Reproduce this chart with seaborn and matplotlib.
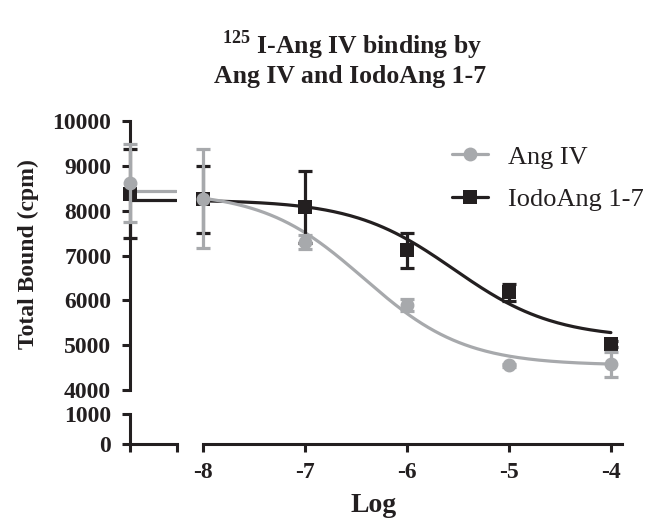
import numpy as np
import pandas as pd
import matplotlib
matplotlib.use("Agg")
import matplotlib.pyplot as plt
from matplotlib.lines import Line2D
import seaborn as sns

# ---------------- data ----------------
log_conc = [-8, -7, -6, -5, -4]
angiv_mean = [8265, 7300, 5900, 4550, 4570]
angiv_err = [1100, 160, 140, 40, 280]
iodo_mean = [8250, 8080, 7120, 6175, 5030]
iodo_err = [750, 800, 390, 200, 60]
ctrl_angiv_mean = [8625]
ctrl_angiv_err = [870]
ctrl_iodo_mean = [8380]
ctrl_iodo_err = [990]
y_ticks_upper = [4000, 5000, 6000, 7000, 8000, 9000, 10000]
y_ticks_lower = [0, 1000]
x_ticks = [-8, -7, -6, -5, -4]
series_names = ["Ang IV", "IodoAng 1-7"]
# sigmoidal dose-response fit parameters (top, bottom, logIC50, Hill slope)
angiv_fit = [8430, 4550, -6.42, 0.88]
iodo_fit = [8240, 5150, -5.54, 0.88]

GRAY = "#a7a9ac"
BLACK = "#231f20"

sns.set_theme(style="ticks")
plt.rcParams["font.family"] = ["Liberation Serif", "DejaVu Serif"]
plt.rcParams["font.weight"] = "bold"
plt.rcParams["mathtext.fontset"] = "custom"
plt.rcParams["mathtext.rm"] = "Liberation Serif:bold"
plt.rcParams["mathtext.bf"] = "Liberation Serif:bold"
plt.rcParams["axes.linewidth"] = 2.2
plt.rcParams["xtick.labelsize"] = 17
plt.rcParams["ytick.labelsize"] = 17

W, H = 659, 523
fig = plt.figure(figsize=(W / 100, H / 100), dpi=100)


def px_axes(x0, y0, x1, y1):
    return fig.add_axes([x0 / W, 1 - y1 / H, (x1 - x0) / W, (y1 - y0) / H])


ax_ul = px_axes(130, 121, 177, 390)    # control, upper
ax_ur = px_axes(202.5, 121, 622, 390)  # dose range, upper
ax_ll = px_axes(130, 414, 177, 444)    # control, lower
ax_lr = px_axes(202.5, 414, 622, 444)  # dose range, lower

xmax = -8 + (622 - 202.5) / 102.1
for ax in (ax_ul, ax_ur):
    ax.set_ylim(4000, 10000)
for ax in (ax_ll, ax_lr):
    ax.set_ylim(0, 1000)
for ax in (ax_ul, ax_ll):
    ax.set_xlim(0, 1)
for ax in (ax_ur, ax_lr):
    ax.set_xlim(-8, xmax)

for ax in (ax_ul, ax_ur, ax_ll, ax_lr):
    ax.set_facecolor("none")
    for s in ax.spines.values():
        s.set_visible(False)
        s.set_color(BLACK)
        s.set_linewidth(2.2)
    ax.tick_params(axis="both", which="both", length=0, colors=BLACK, width=2.2)
    ax.set_xticks([])
    ax.set_yticks([])

ax_ul.spines["left"].set_visible(True)
ax_ul.set_yticks(y_ticks_upper)
ax_ul.set_yticklabels([str(v) for v in y_ticks_upper])
ax_ul.tick_params(axis="y", length=6, pad=7.5, labelsize=17)

ax_ll.spines["left"].set_visible(True)
ax_ll.spines["bottom"].set_visible(True)
ax_ll.set_yticks(y_ticks_lower)
ax_ll.set_yticklabels([str(v) for v in y_ticks_lower])
ax_ll.set_xticks([0, 1])
ax_ll.set_xticklabels(["", ""])
ax_ll.tick_params(axis="both", length=6, pad=7.5, labelsize=17)

ax_lr.spines["bottom"].set_visible(True)
ax_lr.set_xticks(x_ticks)
ax_lr.set_xticklabels([str(v) for v in x_ticks])
ax_lr.tick_params(axis="x", length=6, pad=7, labelsize=17)

for ax in (ax_ul, ax_ll, ax_lr):
    for lab in ax.get_xticklabels() + ax.get_yticklabels():
        lab.set_fontweight("bold")
        lab.set_color(BLACK)


# fitted curves
def fit_curve(params, x):
    top, bottom, logic50, hill = params
    return bottom + (top - bottom) / (1 + 10 ** (hill * (x - logic50)))


xs = np.linspace(-8, -4, 200)
curve_df = pd.concat([
    pd.DataFrame({"x": xs, "y": fit_curve(iodo_fit, xs), "series": series_names[1]}),
    pd.DataFrame({"x": xs, "y": fit_curve(angiv_fit, xs), "series": series_names[0]}),
])
sns.lineplot(data=curve_df, x="x", y="y", hue="series",
             palette={series_names[0]: GRAY, series_names[1]: BLACK},
             linewidth=2.3, legend=False, ax=ax_ur, zorder=2)

# control plateau lines
ctrl_df = pd.DataFrame({
    "x": [0, 0.98, 0, 0.98],
    "y": [iodo_fit[0], iodo_fit[0], angiv_fit[0], angiv_fit[0]],
    "series": [series_names[1]] * 2 + [series_names[0]] * 2,
})
sns.lineplot(data=ctrl_df, x="x", y="y", hue="series",
             palette={series_names[0]: GRAY, series_names[1]: BLACK},
             linewidth=2.3, legend=False, ax=ax_ul, zorder=2)

for ax in (ax_ul, ax_ur):
    ax.set_xlabel("")
    ax.set_ylabel("")


def draw_points(ax, x, y, err, color, marker, z):
    ax.errorbar(x, y, yerr=err, fmt="none", ecolor=color, elinewidth=2.3,
                capsize=5, capthick=2.3, zorder=z, clip_on=False)
    ax.plot(x, y, linestyle="none", marker=marker, markersize=10,
            color=color, markeredgewidth=0, zorder=z + 0.5, clip_on=False)


draw_points(ax_ur, log_conc, iodo_mean, iodo_err, BLACK, "s", 3)
draw_points(ax_ur, log_conc, angiv_mean, angiv_err, GRAY, "o", 4)
draw_points(ax_ul, [0], ctrl_iodo_mean, ctrl_iodo_err, BLACK, "s", 3)
draw_points(ax_ul, [0], ctrl_angiv_mean, ctrl_angiv_err, GRAY, "o", 4)
ax_ul.set_zorder(5)

# legend
handles = [
    Line2D([], [], color=GRAY, marker="o", markersize=10, linewidth=2.3, markeredgewidth=0),
    Line2D([], [], color=BLACK, marker="s", markersize=10, linewidth=2.3, markeredgewidth=0),
]
leg = ax_ur.legend(handles, series_names, loc="upper left",
                   bbox_to_anchor=(439 / W, 1 - 132 / H), bbox_transform=fig.transFigure,
                   frameon=False, borderpad=0, handlelength=1.35, handletextpad=0.75,
                   labelspacing=0.72, prop={"family": "Liberation Serif", "weight": "normal", "size": 19})
for t in leg.get_texts():
    t.set_color(BLACK)

# titles and axis labels
fig.text(352 / W, 1 - 45 / H, r"$^{125}$ I-Ang IV binding by", ha="center", va="center",
         fontsize=18.5, fontweight="bold", color=BLACK)
fig.text(350 / W, 1 - 77 / H, "Ang IV and IodoAng 1-7", ha="center", va="center",
         fontsize=18.5, fontweight="bold", color=BLACK)
fig.text(28 / W, 1 - 254 / H, "Total Bound (cpm)", ha="center", va="center",
         rotation=90, fontsize=17, fontweight="bold", color=BLACK)
fig.text(374 / W, 1 - 506 / H, "Log", ha="center", va="center",
         fontsize=20, fontweight="bold", color=BLACK)

fig.savefig("out.png", dpi=100)
